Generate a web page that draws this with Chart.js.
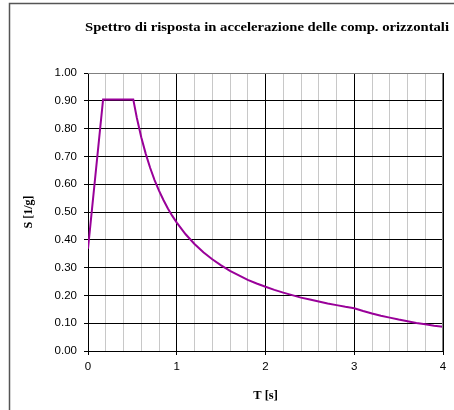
<!DOCTYPE html>
<html>
<head>
<meta charset="utf-8">
<script src="https://cdn.jsdelivr.net/npm/chart.js@4.4.1/dist/chart.umd.min.js"></script>
<style>
  html, body { margin: 0; padding: 0; background: #fff; }
  #wrap { width: 454px; height: 410px; }
</style>
</head>
<body>
<div id="wrap"><canvas id="spettro" width="454" height="410"></canvas></div>
<script>
// periodo T [s] e accelerazione spettrale S [1/g]
const periods = [0.00, 0.17, 0.51, 0.55, 0.60, 0.65, 0.70, 0.75, 0.80, 0.85, 0.90, 0.95,
  1.00, 1.10, 1.20, 1.30, 1.40, 1.50, 1.60, 1.70, 1.80, 1.90, 2.00, 2.10, 2.20, 2.30,
  2.40, 2.50, 2.60, 2.70, 2.80, 2.90, 3.00, 3.10, 3.20, 3.30, 3.40, 3.50, 3.60, 3.70,
  3.80, 3.90, 4.00];
const accelerations = [0.368, 0.905, 0.905, 0.839, 0.769, 0.710, 0.659, 0.615, 0.577, 0.543,
  0.513, 0.486, 0.462, 0.420, 0.385, 0.355, 0.330, 0.308, 0.288, 0.272, 0.256, 0.243,
  0.231, 0.220, 0.210, 0.201, 0.192, 0.185, 0.178, 0.171, 0.165, 0.159, 0.154, 0.144,
  0.135, 0.127, 0.120, 0.113, 0.107, 0.101, 0.096, 0.091, 0.087];

const chartTitle = "Spettro di risposta in accelerazione delle comp. orizzontali";
const xTitle = "T [s]";
const yTitle = "S [1/g]";
const xMin = 0, xMax = 4, xStep = 0.2;
const yMin = 0, yMax = 1, yStep = 0.1;

const points = periods.map((t, i) => ({ x: t, y: accelerations[i] }));

const isWhole = (v) => Math.abs(v - Math.round(v)) < 1e-6;

// bordo esterno e titolo disegnati a mano (come in Excel)
const framePlugin = {
  id: "frame",
  beforeDraw(chart) {
    const ctx = chart.ctx;
    ctx.save();
    ctx.fillStyle = "#fff";
    ctx.fillRect(0, 0, chart.width, chart.height);
    ctx.strokeStyle = "#555";
    ctx.lineWidth = 1.5;
    ctx.strokeRect(9.5, 3.5, 600, 600);
    ctx.restore();
  },
  afterDraw(chart) {
    const ctx = chart.ctx;
    const a = chart.chartArea;
    ctx.save();
    ctx.strokeStyle = "#808080";
    ctx.lineWidth = 1;
    ctx.beginPath();
    ctx.moveTo(a.left, a.top + 0.5);
    ctx.lineTo(a.right - 0.5, a.top + 0.5);
    ctx.lineTo(a.right - 0.5, a.bottom);
    ctx.stroke();
    // il titolo di Excel e' piu' largo: lo stiro fino a 364px
    ctx.fillStyle = "#000";
    ctx.font = "bold 12.5px 'Liberation Serif'";
    ctx.textAlign = "center";
    ctx.textBaseline = "middle";
    const w = ctx.measureText(chartTitle).width;
    ctx.translate(267, 28);
    ctx.scale(364 / w, 1);
    ctx.fillText(chartTitle, 0, 0);
    ctx.restore();
  }
};

new Chart(document.getElementById("spettro"), {
  type: "scatter",
  data: {
    datasets: [{
      data: points,
      showLine: true,
      borderColor: "#990099",
      borderWidth: 2,
      pointRadius: 0,
      tension: 0
    }]
  },
  plugins: [framePlugin],
  options: {
    responsive: false,
    animation: false,
    devicePixelRatio: 1,
    layout: { padding: { top: 73, right: 11, bottom: 0, left: 0 } },
    plugins: {
      legend: { display: false },
      tooltip: { enabled: false }
    },
    scales: {
      x: {
        type: "linear",
        min: xMin,
        max: xMax,
        afterFit: (s) => { s.height = 59; },
        border: { color: "#000", width: 1 },
        grid: {
          color: (c) => isWhole(c.tick.value) ? "#000" : "#c8c8c8",
          tickColor: (c) => isWhole(c.tick.value) ? "#000" : "rgba(0,0,0,0)",
          tickLength: 4
        },
        ticks: {
          stepSize: xStep,
          autoSkip: false,
          maxRotation: 0,
          padding: 5,
          color: "#000",
          font: { family: "'Liberation Sans'", size: 11.5 },
          callback: (v) => isWhole(v) ? String(Math.round(v)) : ""
        },
        title: {
          display: true,
          text: xTitle,
          color: "#000",
          font: { family: "'Liberation Serif'", size: 12.5, weight: "bold" },
          padding: { top: 0, bottom: 7 }
        }
      },
      y: {
        min: yMin,
        max: yMax,
        afterFit: (s) => { s.width = 88; },
        border: { color: "#000", width: 1 },
        grid: {
          color: "#000",
          tickColor: "#000",
          tickLength: 4
        },
        ticks: {
          stepSize: yStep,
          padding: 7,
          color: "#000",
          font: { family: "'Liberation Sans'", size: 11.5 },
          callback: (v) => Number(v).toFixed(2)
        },
        title: {
          display: true,
          text: yTitle,
          color: "#000",
          font: { family: "'Liberation Serif'", size: 12, weight: "bold" },
          padding: { top: 22, bottom: 0 }
        }
      }
    }
  }
});
</script>
</body>
</html>
